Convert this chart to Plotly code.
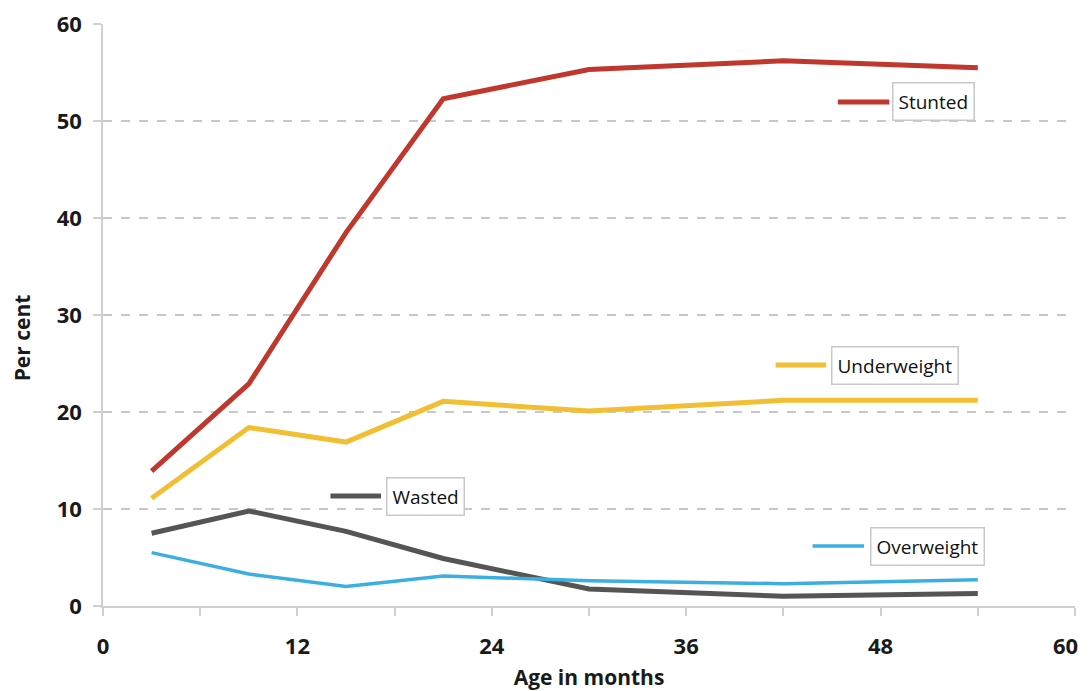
import plotly.graph_objects as go

age = [3, 9, 15, 21, 30, 42, 54]
stunted = [13.9, 22.9, 38.5, 52.3, 55.3, 56.2, 55.5]
underweight = [11.1, 18.4, 16.9, 21.1, 20.1, 21.2, 21.2]
wasted = [7.5, 9.8, 7.7, 4.9, 1.75, 1.0, 1.3]
overweight = [5.5, 3.3, 2.0, 3.1, 2.6, 2.3, 2.7]

x_ticks = [0, 12, 24, 36, 48, 60]

names = ["Stunted", "Underweight", "Wasted", "Overweight"]
series = [stunted, underweight, wasted, overweight]
colors = ["#C0372D", "#F2BE34", "#555555", "#3BAEE2"]
widths = [5, 5, 5, 3.5]

# label placement (paper coords): line start, line end, y, text center x
label_pos = [
    (0.756, 0.809, 0.866, 0.854),
    (0.692, 0.744, 0.414, 0.815),
    (0.234, 0.286, 0.189, 0.332),
    (0.730, 0.783, 0.103, 0.848),
]

fig = go.Figure()
for n, s, c, w in zip(names, series, colors, widths):
    fig.add_trace(go.Scatter(x=age, y=s, mode="lines", name=n,
                             line=dict(color=c, width=w), showlegend=False))

for (x0, x1, y, tx), n, c, w in zip(label_pos, names, colors, widths):
    fig.add_shape(type="line", xref="paper", yref="paper", x0=x0, x1=x1, y0=y, y1=y,
                  line=dict(color=c, width=w))
    fig.add_annotation(xref="paper", yref="paper", x=tx, y=y, text=n, showarrow=False,
                       xanchor="center", yanchor="middle",
                       font=dict(family="Open Sans", size=19, color="#111"),
                       bordercolor="#C8C8C8", borderwidth=1.5, borderpad=5, bgcolor="white")

# y-axis title
fig.add_annotation(xref="paper", yref="paper", x=-0.0833, y=0.46, text="<b>Per cent</b>",
                   showarrow=False, textangle=-90, xanchor="center", yanchor="middle",
                   font=dict(family="Open Sans", size=21, color="#1a1a1a"))

# last x tick label, nudged so it stays inside the page
fig.add_annotation(xref="x", yref="paper", x=x_ticks[-1], y=0, yshift=-39, text=str(x_ticks[-1]),
                   showarrow=False, xanchor="right", yanchor="middle", xshift=5,
                   font=dict(family="Open Sans", size=22, color="#1a1a1a", weight="bold"))

fig.update_layout(
    width=1081, height=683,
    margin=dict(l=95, r=14, t=16, b=85),
    plot_bgcolor="white", paper_bgcolor="white",
    font=dict(family="Open Sans", color="#1a1a1a"),
)
fig.update_xaxes(
    range=[0, 60], tickvals=x_ticks, ticktext=[str(v) for v in x_ticks[:-1]] + [""],
    automargin=False, ticklabeloverflow="allow",
    ticks="outside", ticklen=8, tickcolor="#D0D0D0", tickwidth=1.5, ticklabelstandoff=12,
    minor=dict(dtick=6, tick0=0, ticks="outside", ticklen=8, tickcolor="#D0D0D0", tickwidth=1.5, showgrid=False),
    showgrid=False, showline=True, linecolor="#D0D0D0", linewidth=1.5, zeroline=False,
    tickfont=dict(size=22, family="Open Sans", color="#1a1a1a", weight="bold"),
    title=dict(text="<b>Age in months</b>", font=dict(size=21, family="Open Sans"), standoff=15),
)
fig.update_yaxes(
    range=[0, 60], dtick=10, automargin=False, ticklabeloverflow="allow",
    ticks="outside", ticklen=8, tickcolor="#D0D0D0", tickwidth=1.5, ticklabelstandoff=7,
    showgrid=True, gridcolor="#C8C8C8", griddash="dash", gridwidth=1.5,
    showline=True, linecolor="#D0D0D0", linewidth=1.5, zeroline=False,
    tickfont=dict(size=22, family="Open Sans", color="#1a1a1a", weight="bold"),
)

fig.write_html("out.html")
